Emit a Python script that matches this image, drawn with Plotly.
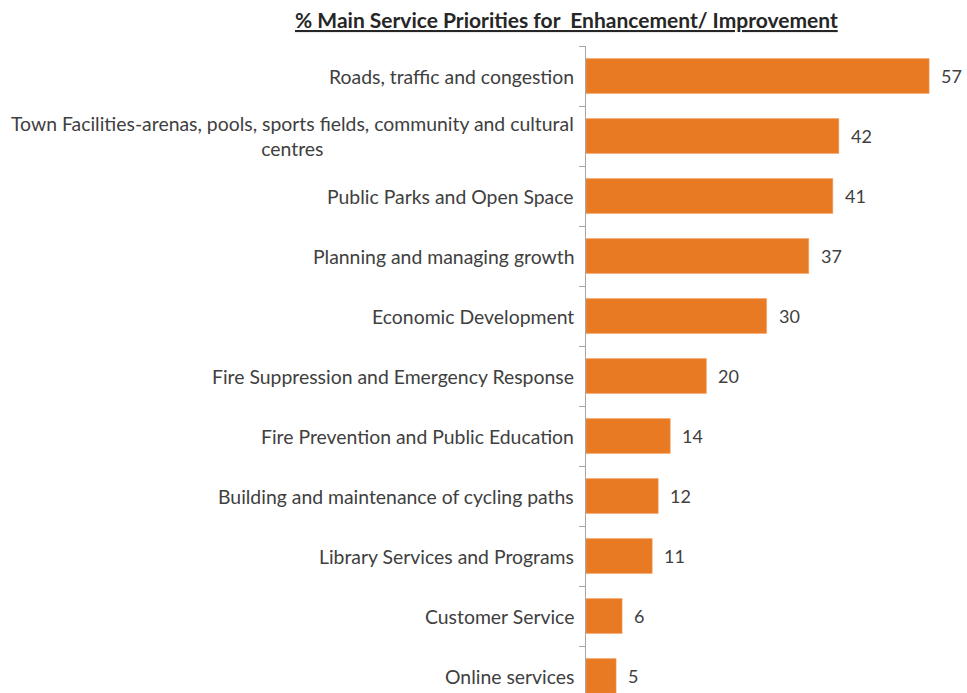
import plotly.graph_objects as go

categories = [
    "Roads, traffic and congestion",
    "Town Facilities-arenas, pools, sports fields, community and cultural<br>centres",
    "Public Parks and Open Space",
    "Planning and managing growth",
    "Economic Development",
    "Fire Suppression and Emergency Response",
    "Fire Prevention and Public Education",
    "Building and maintenance of cycling paths",
    "Library Services and Programs",
    "Customer Service",
    "Online services",
]
values = [57, 42, 41, 37, 30, 20, 14, 12, 11, 6, 5]
title_text = "% Main Service Priorities for  Enhancement/ Improvement"

W, H = 967, 693
ML, MT = 586, 46
PW, PH = W - ML, H - MT
FONT = "Lato"
TXT = "#404040"
idx = list(range(len(categories)))

fig = go.Figure()
fig.add_trace(go.Bar(
    x=values, y=idx, orientation="h",
    marker=dict(color="#E97A24", line=dict(color="#F0A060", width=0.5)),
    width=0.58, hoverinfo="skip", cliponaxis=False,
))

for i, (c, v) in enumerate(zip(categories, values)):
    fig.add_annotation(x=v, y=i, xref="x", yref="y", text=str(v), showarrow=False,
                       xanchor="left", xshift=10, font=dict(family=FONT, size=18, color=TXT))
    fig.add_annotation(x=0, y=i, xref="x", yref="y", text=c, showarrow=False,
                       xanchor="right", align="center", xshift=-10,
                       font=dict(family=FONT, size=19.4, color=TXT))

fig.add_annotation(x=(566 - ML) / PW, y=1 + (MT - 20) / PH, xref="paper", yref="paper",
                   text="<b><u>" + title_text + "</u></b>",
                   showarrow=False, xanchor="center", yanchor="middle",
                   font=dict(family=FONT, size=21, color="#262626"))

fig.update_layout(
    width=W, height=H,
    margin=dict(l=ML, r=0, t=MT, b=0, pad=0),
    plot_bgcolor="white", paper_bgcolor="white",
    showlegend=False,
    hovermode=False,
    xaxis=dict(range=[0, PW / 6.02], showgrid=False, zeroline=False, showticklabels=False,
               showline=False, ticks=""),
    yaxis=dict(range=[-0.5 + PH / 60.0, -0.5], showgrid=False, zeroline=False,
               showticklabels=False, showline=True, linecolor="#A6A6A6", linewidth=1.3,
               tickmode="array", tickvals=[i + 0.5 for i in [-1] + idx[:-1]],
               ticks="outside", ticklen=6, tickcolor="#A6A6A6", tickwidth=1.3),
)
fig.write_html("out.html", config={"displayModeBar": False},
               post_script="document.body.style.margin='0';document.body.style.overflow='hidden';")
